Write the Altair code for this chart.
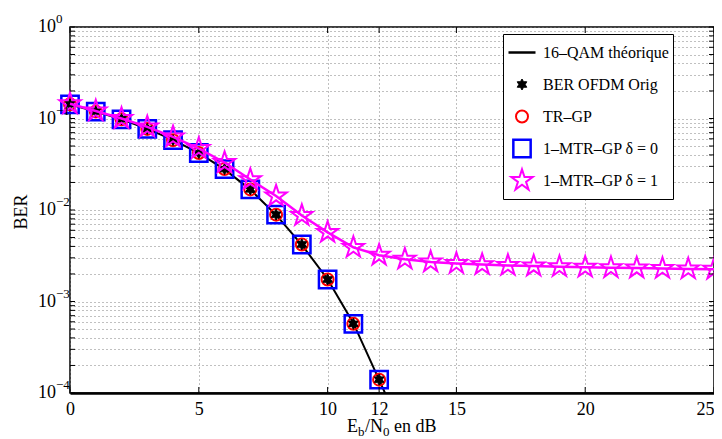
import altair as alt
import pandas as pd

# ---------------- data ----------------
SERIES = ["16–QAM théorique", "BER OFDM Orig", "TR–GP", "1–MTR–GP δ = 0", "1–MTR–GP δ = 1"]

x_theory = list(range(14))
ber_theory = [0.142, 0.119, 0.098, 0.077, 0.0585, 0.0419, 0.0278, 0.0167,
              0.00885, 0.00416, 0.00175, 0.00058, 0.000139, 0.000033]

x_sim = list(range(13))
ber_orig = [0.143, 0.119, 0.098, 0.077, 0.058, 0.042, 0.028, 0.0168,
            0.0089, 0.0042, 0.00174, 0.00057, 0.00014]
ber_trgp = [0.143, 0.119, 0.098, 0.077, 0.058, 0.042, 0.028, 0.0168,
            0.0089, 0.0042, 0.00174, 0.00057, 0.00014]
ber_mtr0 = [0.143, 0.119, 0.098, 0.077, 0.058, 0.042, 0.028, 0.0168,
            0.0089, 0.0042, 0.00174, 0.00057, 0.00014]

x_mtr1 = list(range(26))
ber_mtr1 = [0.145, 0.121, 0.1, 0.081, 0.063, 0.047, 0.033, 0.0215, 0.0142,
            0.0087, 0.0057, 0.0039, 0.0032, 0.0029, 0.0027, 0.0026, 0.00253,
            0.00248, 0.00244, 0.0024, 0.00237, 0.00234, 0.00232, 0.0023,
            0.00227, 0.00225]

x_ticks = [0, 5, 10, 12, 15, 20, 25]
decades = [1, 0.1, 0.01, 0.001, 0.0001]
exp_labels = ["0", "−1", "−2", "−3", "−4"]
minor_vals = [m * 10.0 ** e for e in range(-4, 0) for m in range(1, 10)] + [1.0]

# ---------------- styling ----------------
W, H = 644, 366
FONT = "'Liberation Serif', 'Times New Roman', Times, serif"
HEX = ("M0,-1L0.2887,-0.5L0.866,-0.5L0.5774,0L0.866,0.5L0.2887,0.5L0,1"
       "L-0.2887,0.5L-0.866,0.5L-0.5774,0L-0.866,-0.5L-0.2887,-0.5Z")
STAR = ("M0,-1L0.2245,-0.309L0.951,-0.309L0.363,0.118L0.588,0.809L0,0.382"
        "L-0.588,0.809L-0.363,0.118L-0.951,-0.309L-0.2245,-0.309Z")
GRID = dict(grid=True, gridColor="#808080", gridDash=[1, 3], gridWidth=1, gridOpacity=1)

xscale = alt.Scale(domain=[0, 25], nice=False, zero=False)
yscale = alt.Scale(type="log", domain=[1e-4, 1], nice=False)
xaxis = alt.Axis(values=x_ticks, title=None, ticks=False, domain=True,
                 domainColor="black", domainWidth=2.5, labelFont=FONT,
                 labelFontSize=18, labelColor="black", labelPadding=7,
                 labelAlign={"condition": {"test": "datum.value == 25", "value": "right"},
                             "value": "center"},
                 labelFlush=False, labelOverlap=False, format="d", **GRID)
yaxis = alt.Axis(values=minor_vals, title=None, labels=False, ticks=False,
                 domain=False, **GRID)

X = alt.X("x:Q", scale=xscale, axis=xaxis)
Y = alt.Y("ber:Q", scale=yscale, axis=yaxis)

leg = alt.Legend(title=None, orient="none", legendX=433, legendY=7,
                 fillColor="white", strokeColor="black", padding=4,
                 rowPadding=3, clipHeight=29, gridAlign="all", labelFont=FONT,
                 labelFontSize=16, labelColor="black", labelOffset=6,
                 symbolOpacity=1, labelLimit=400, cornerRadius=0)

enc = dict(
    shape=alt.Shape("series:N", scale=alt.Scale(domain=SERIES,
                    range=["stroke", HEX, "circle", "square", STAR]), legend=leg),
    stroke=alt.Stroke("series:N", scale=alt.Scale(domain=SERIES,
                      range=["black", "black", "#ff0000", "#0000ff", "#ff00ff"]), legend=leg),
    fill=alt.Fill("series:N", scale=alt.Scale(domain=SERIES,
                  range=["transparent", "black", "transparent", "transparent", "transparent"]), legend=leg),
    size=alt.Size("series:N", scale=alt.Scale(type="ordinal", domain=SERIES,
                  range=[729, 120, 144, 300, 500]), legend=leg),
    strokeWidth=alt.StrokeWidth("series:N", scale=alt.Scale(type="ordinal", domain=SERIES,
                                range=[2.5, 1, 2, 2.5, 2]), legend=leg),
)

theory_df = pd.DataFrame({"x": x_theory, "ber": ber_theory})
pts_df = pd.concat([
    pd.DataFrame({"x": x_sim, "ber": ber_mtr0, "series": SERIES[3]}),
    pd.DataFrame({"x": x_sim, "ber": ber_trgp, "series": SERIES[2]}),
    pd.DataFrame({"x": x_sim, "ber": ber_orig, "series": SERIES[1]}),
], ignore_index=True)
mtr1_df = pd.DataFrame({"x": x_mtr1, "ber": ber_mtr1, "series": SERIES[4]})

theory_line = alt.Chart(theory_df).mark_line(color="black", strokeWidth=2, clip=True).encode(x=X, y=Y)
pts = alt.Chart(pts_df).mark_point(filled=True, opacity=1).encode(x=X, y=Y, **enc)
mtr1_line = alt.Chart(mtr1_df).mark_line(color="#ff00ff", strokeWidth=2.5).encode(x=X, y=Y)
mtr1_pts = alt.Chart(mtr1_df).mark_point(filled=True, opacity=1).encode(x=X, y=Y, **enc)

# inward ticks (MATLAB style)
yt_df = pd.DataFrame({"ber": minor_vals})
xt_df = pd.DataFrame({"x": x_ticks})
ytl = alt.Chart(yt_df).mark_rule(color="black").encode(y=Y, x=alt.value(0), x2=alt.value(5))
ytr = alt.Chart(yt_df).mark_rule(color="black").encode(y=Y, x=alt.value(W - 5), x2=alt.value(W))
xtb = alt.Chart(xt_df).mark_rule(color="black").encode(x=X, y=alt.value(H - 6), y2=alt.value(H))
xtt = alt.Chart(xt_df).mark_rule(color="black").encode(x=X, y=alt.value(0), y2=alt.value(6))

# y tick labels 10^k
ylab_df = pd.DataFrame({"ber": decades, "e": exp_labels})
ten = alt.Chart(ylab_df).mark_text(text="10", align="right", baseline="middle",
                                   font=FONT, fontSize=18, color="black").encode(
    x=alt.value(-14), y=Y)
expo = alt.Chart(ylab_df).mark_text(align="left", baseline="middle", dy=-8,
                                    font=FONT, fontSize=13, color="black").encode(
    x=alt.value(-14), y=Y, text="e:N")


def label(txt, px, py, fs, angle=0):
    return alt.Chart(alt.Data(values=[{}])).mark_text(
        text=txt, align="left" if angle == 0 else "center", baseline="middle",
        font=FONT, fontSize=fs, color="black", angle=angle).encode(
        x=alt.value(px), y=alt.value(py))


ytitle = label("BER", -48, 185, 18, angle=270)
t_y, s_y = 400, 405
xt1 = label("E", 277, t_y, 18)
xt2 = label("b", 288, s_y, 13)
xt3 = label("/N", 295, t_y, 18)
xt4 = label("0", 313, s_y, 13)
xt5 = label("en dB", 324, t_y, 18)

chart = alt.layer(
    theory_line, pts, mtr1_line, mtr1_pts,
    ytl, ytr, xtb, xtt, ten, expo, ytitle, xt1, xt2, xt3, xt4, xt5,
).properties(
    width=W, height=H,
    padding={"left": 62, "top": 19, "right": 0, "bottom": 52},
    autosize=alt.AutoSizeParams(type="none"),
    background="white",
).configure_view(stroke="black", strokeWidth=1.5)

chart.save("out.html", embed_options={"renderer": "svg", "actions": False})
